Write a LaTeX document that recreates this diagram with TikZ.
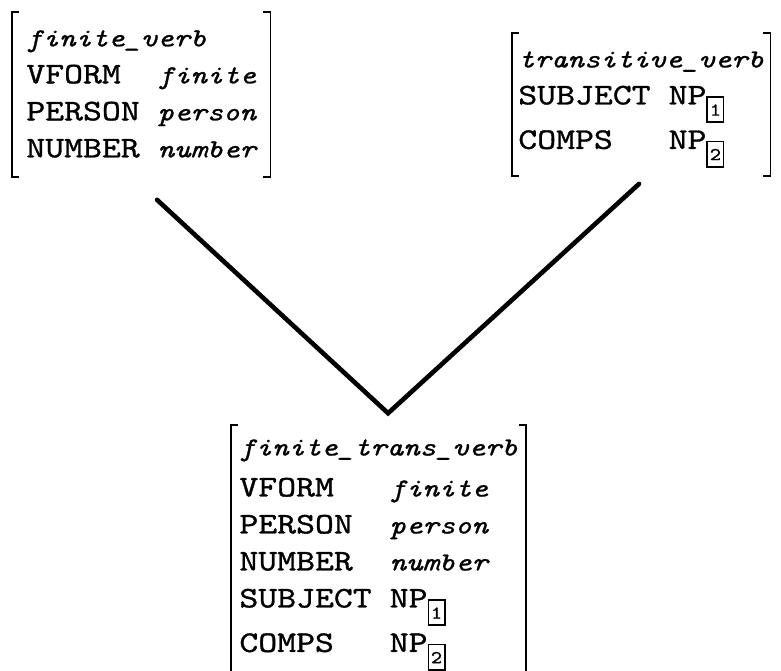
\documentclass[tikz,border=0pt]{standalone}
\usepackage{fontspec}
\usepackage{array}
\usetikzlibrary{calc}
% typewriter face for the feature structures
\newfontfamily\avmfont{lmmono10-regular.otf}[ItalicFont=lmmono10-italic.otf, FakeStretch=1.2, FakeBold=1]
\newcommand{\typename}[1]{{\fontsize{13}{18.5}\selectfont\itshape #1}}
\newcommand{\val}[1]{{\fontsize{13}{18.5}\selectfont\itshape #1}}
\newcommand{\boxnum}[1]{%
    \raisebox{-8pt}{\setlength{\fboxsep}{0.5pt}\setlength{\fboxrule}{0.8pt}%
    \fbox{\rule{0pt}{10.9pt}\makebox[6.4pt]{\raisebox{2.4pt}{\fontsize{9}{9}\selectfont #1}}}}}
\newcommand{\avmbrackets}[1]{%
    % left bracket
    \draw[bracket] ([xshift=3.5pt]#1.north west) -- (#1.north west)
        -- (#1.south west) -- ([xshift=3.5pt]#1.south west);
    % right bracket
    \draw[bracket] ([xshift=-3.5pt]#1.north east) -- (#1.north east)
        -- (#1.south east) -- ([xshift=-3.5pt]#1.south east);
}

\begin{document}
\begin{tikzpicture}[
    avm/.style={anchor=north west, inner xsep=4pt, inner ysep=2pt,
        font=\avmfont\fontsize{15}{18.5}\selectfont},
    bracket/.style={line width=0.9pt},
    branch/.style={line width=2.3pt, line cap=round, line join=miter}
]
\useasboundingbox (0,0) rectangle (13.725,11.792);

% =============================================
% Supertypes
% =============================================

\node[avm, inner xsep=7pt, inner ysep=4pt] (finite) at (0.21,11.58) {%
    \begin{tabular}{@{}l@{\hspace{9pt}}l@{}}
    \multicolumn{2}{@{}l@{}}{\typename{finite\_verb}} \\
    VFORM  & \val{finite} \\
    PERSON & \val{person} \\
    NUMBER & \val{number}
    \end{tabular}};
\avmbrackets{finite}

\node[avm, inner xsep=3pt, inner ysep=4pt] (trans) at (8.997,11.21) {%
    \begin{tabular}{@{}l@{\hspace{9pt}}l@{}}
    \multicolumn{2}{@{}l@{}}{\typename{transitive\_verb}} \\
    SUBJECT & NP\boxnum{1} \\[1pt]
    COMPS   & NP\boxnum{2}
    \end{tabular}};
\avmbrackets{trans}

% =============================================
% Subtype inheriting from both
% =============================================

\node[avm] (fintrans) at (4.06,4.32) {%
    \begin{tabular}{@{}l@{\hspace{9pt}}l@{}}
    \multicolumn{2}{@{}l@{}}{\typename{finite\_trans\_verb}} \\[2pt]
    VFORM   & \val{finite} \\
    PERSON  & \val{person} \\
    NUMBER  & \val{number} \\
    SUBJECT & NP\boxnum{1} \\[1pt]
    COMPS   & NP\boxnum{2} \\[8pt]
    \end{tabular}};
\avmbrackets{fintrans}

% Inheritance lines
\coordinate (finite end) at (2.76,8.28);
\coordinate (trans end) at (11.23,8.56);
\coordinate (join) at (6.82,4.53);
\draw[branch] (finite end) -- (join) -- (trans end);

\end{tikzpicture}
\end{document}
